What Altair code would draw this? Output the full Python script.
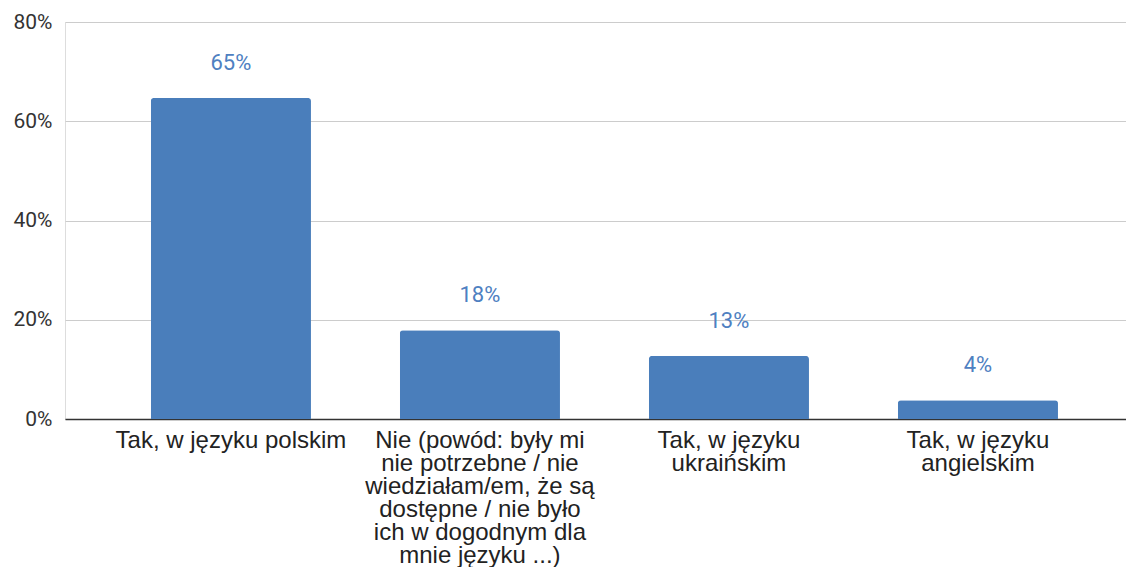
import altair as alt
import pandas as pd

categories = [
    "Tak, w języku polskim",
    "Nie (powód: były mi nie potrzebne / nie wiedziałam/em, że są dostępne / nie było ich w dogodnym dla mnie języku ...)",
    "Tak, w języku ukraińskim",
    "Tak, w języku angielskim",
]
label_lines = [
    ["Tak, w języku polskim"],
    ["Nie (powód: były mi", "nie potrzebne / nie", "wiedziałam/em, że są",
     "dostępne / nie było", "ich w dogodnym dla", "mnie języku ...)"],
    ["Tak, w języku", "ukraińskim"],
    ["Tak, w języku", "angielskim"],
]
values = [64.7, 17.9, 12.7, 3.8]
shown = [65, 18, 13, 4]

df = pd.DataFrame({"cat": categories, "value": values, "shown": shown})


def js_list(lines):
    return "[" + ",".join("'" + s + "'" for s in lines) + "]"


expr = "''"
for c, lines in reversed(list(zip(categories, label_lines))):
    expr = f"datum.value == '{c}' ? {js_list(lines)} : ({expr})"

x = alt.X(
    "cat:N",
    sort=categories,
    title=None,
    scale=alt.Scale(paddingInner=0.357, paddingOuter=0.309, align=0.558),
    axis=alt.Axis(
        labelExpr=expr,
        labelAngle=0,
        labelFont="Liberation Sans",
        labelFontSize=24,
        labelColor="#222222",
        labelLineHeight=23,
        labelPadding=9,
        labelLimit=400,
        ticks=False,
        grid=False,
        domainColor="#333333",
        domainWidth=1.5,
        labelBaseline="top",
    ),
)

y = alt.Y(
    "value:Q",
    title=None,
    scale=alt.Scale(domain=[0, 80], nice=False),
    axis=alt.Axis(
        values=[0, 20, 40, 60, 80],
        labelExpr="datum.value + '%'",
        labelFont="Roboto",
        labelFontSize=21,
        labelColor="#333333",
        labelPadding=13,
        ticks=False,
        domain=False,
        gridColor="#cccccc",
        gridWidth=1,
    ),
)

bars = alt.Chart(df).mark_bar(
    color="#4a7ebb", cornerRadiusTopLeft=3, cornerRadiusTopRight=3
).encode(x=x, y=y)

texts = alt.Chart(df).transform_calculate(
    lbl="datum.shown + '%'"
).mark_text(
    font="Roboto", fontSize=22, color="#4e80c1", baseline="alphabetic", dy=-28
).encode(
    x=x,
    y=y,
    text="lbl:N",
)

chart = (
    alt.layer(bars, texts)
    .properties(
        width=1061,
        height=397,
        autosize=alt.AutoSizeParams(type="none"),
        padding={"left": 57, "top": 14, "right": 0, "bottom": 148},
    )
    .configure_view(stroke="transparent", strokeOpacity=0)
    .configure(background="white")
)

chart.save("out.html", embed_options={"renderer": "svg", "actions": False})
